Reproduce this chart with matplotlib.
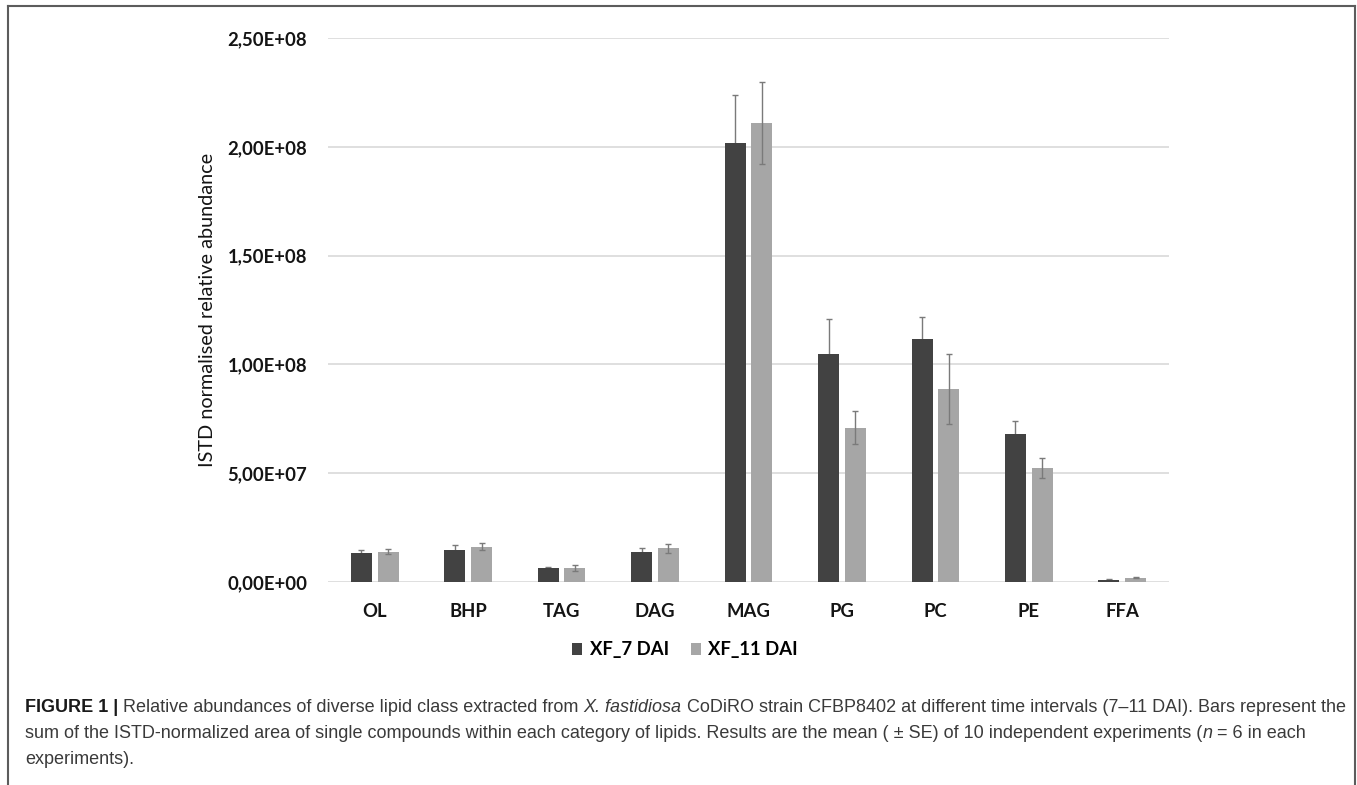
import matplotlib
matplotlib.use("Agg")
import matplotlib.pyplot as plt
import numpy as np
from matplotlib.lines import Line2D
from matplotlib.ticker import FuncFormatter

categories = ["OL", "BHP", "TAG", "DAG", "MAG", "PG", "PC", "PE", "FFA"]
xf7 = [1.32e7, 1.49e7, 6.5e6, 1.40e7, 2.016e8, 1.049e8, 1.116e8, 6.80e7, 1.1e6]
xf7_se = [1.5e6, 2.3e6, 0.5e6, 1.8e6, 2.2e7, 1.6e7, 1.0e7, 6.0e6, 3e5]
xf11 = [1.385e7, 1.63e7, 6.3e6, 1.55e7, 2.110e8, 7.09e7, 8.86e7, 5.23e7, 2.0e6]
xf11_se = [1.1e6, 1.7e6, 1.3e6, 2.1e6, 1.9e7, 7.7e6, 1.6e7, 4.7e6, 3e5]
series_names = ["XF_7 DAI", "XF_11 DAI"]
y_ticks = [0, 5e7, 1e8, 1.5e8, 2e8, 2.5e8]

W, H = 1357, 785
fig = plt.figure(figsize=(W / 100, H / 100), dpi=100)
fig.patch.set_facecolor("white")

# axes placed in pixel units
L, R, T, B = 328, 1169, 38, 582
ax = fig.add_axes([L / W, 1 - B / H, (R - L) / W, (B - T) / H])

chart_font = "Lato"
dark, light, err_col = "#424242", "#a6a6a6", "#7a7a7a"

x = np.arange(len(categories))
off, bw = 0.143, 0.225
ax.errorbar(x - off, xf7, yerr=xf7_se, fmt="none", ecolor=err_col,
            elinewidth=1, capsize=2, capthick=1, zorder=1)
ax.bar(x - off, xf7, width=bw, color=dark, label=series_names[0], zorder=2)
ax.bar(x + off, xf11, width=bw, color=light, label=series_names[1], zorder=2)
ax.errorbar(x + off, xf11, yerr=xf11_se, fmt="none", ecolor=err_col,
            elinewidth=1, capsize=2, capthick=1, zorder=3)

ax.set_xlim(-0.5, len(categories) - 0.5)
ax.set_ylim(0, 2.5e8)
ax.set_yticks(y_ticks)
ax.yaxis.set_major_formatter(FuncFormatter(lambda v, p: f"{v:.2E}".replace(".", ",")))
ax.set_xticks(x)
ax.set_xticklabels(categories)
ax.grid(axis="y", color="#d9d9d9", linewidth=1.2, zorder=0)
ax.set_axisbelow(True)
for s in ax.spines.values():
    s.set_visible(False)
ax.tick_params(axis="both", length=0, labelsize=13.3, colors="#141414")
ax.tick_params(axis="y", pad=15)
ax.tick_params(axis="x", pad=15)
for lab in ax.get_xticklabels() + ax.get_yticklabels():
    lab.set_fontfamily(chart_font)
    lab.set_fontweight("bold")

ax.set_ylabel("ISTD normalised relative abundance", fontsize=14.3, family=chart_font,
              color="#141414")
ax.yaxis.set_label_coords((216 - L) / (R - L), 0.5)

fig.legend(loc="center", bbox_to_anchor=(685 / W, 1 - 650 / H), ncol=2, frameon=False,
           prop={"family": chart_font, "size": 13.3, "weight": "bold"},
           handlelength=0.55, handleheight=0.55, handletextpad=0.4, columnspacing=1.2)

# outer frame (open at the bottom)
frame = dict(color="#5c5c5c", linewidth=1.5, transform=fig.transFigure)
fig.add_artist(Line2D([8 / W, 8 / W], [0, 1 - 6 / H], **frame))
fig.add_artist(Line2D([8 / W, 1355 / W], [1 - 6 / H, 1 - 6 / H], **frame))
fig.add_artist(Line2D([1355 / W, 1355 / W], [1 - 6 / H, 0], **frame))

# caption, drawn piece by piece so styles can mix on one line
cap_font = "Liberation Sans"
cap_size = 13
renderer = fig.canvas.get_renderer()


def text_width(s, **kw):
    t = fig.text(0, 0, s, fontsize=cap_size, family=cap_font, **kw)
    w = t.get_window_extent(renderer).width
    t.remove()
    return w


space_w = text_width("a a") - text_width("aa")


def draw_line(x0, y_px, pieces):
    xp = x0
    for txt, kw, gap in pieces:
        t = fig.text(xp / W, 1 - y_px / H, txt, fontsize=cap_size, family=cap_font,
                     va="baseline", ha="left", **kw)
        xp += t.get_window_extent(renderer).width + (space_w if gap else 0)


body = dict(color="#3a3a3a")
draw_line(25, 712, [
    ("FIGURE 1 |", dict(color="#1a1a1a", fontweight="bold"), True),
    ("Relative abundances of diverse lipid class extracted from", body, True),
    ("X. fastidiosa", dict(color="#3a3a3a", style="italic"), True),
    ("CoDiRO strain CFBP8402 at different time intervals (7\u201311 DAI). Bars represent the",
     body, False),
])
draw_line(25, 738, [
    ("sum of the ISTD-normalized area of single compounds within each category of lipids. "
     "Results are the mean ( \u00b1 SE) of 10 independent experiments (", body, False),
    ("n", dict(color="#3a3a3a", style="italic"), True),
    ("= 6 in each", body, False),
])
draw_line(25, 764, [("experiments).", body, False)])

fig.savefig("out.png", dpi=100, facecolor="white")
